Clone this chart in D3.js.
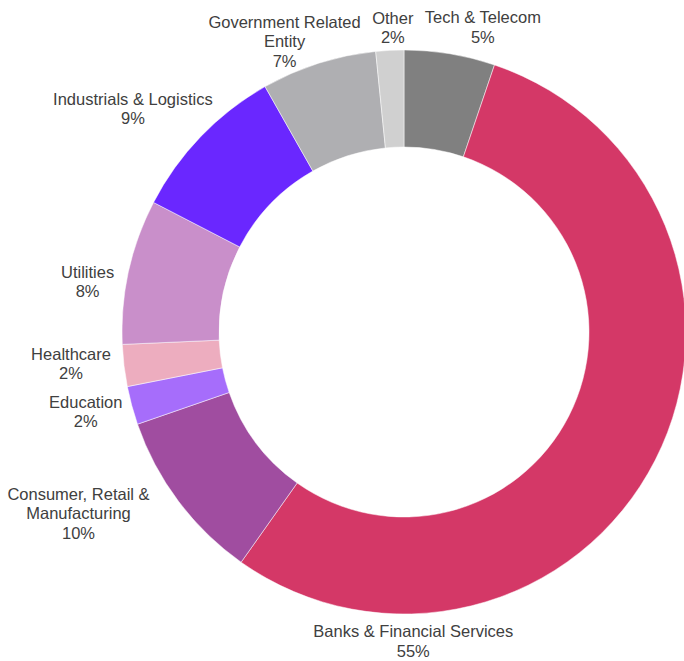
<!DOCTYPE html>
<html>
<head>
<meta charset="utf-8">
<script src="https://cdn.jsdelivr.net/npm/d3@7"></script>
<style>
  body { margin: 0; background: #fff; }
  svg text { font-family: "Liberation Sans", Arial, sans-serif; font-size: 16.5px; fill: #404040; }
</style>
</head>
<body>
<div id="chart"></div>
<script>
// data, clockwise from 12 o'clock
var categories = ["Tech & Telecom", "Banks & Financial Services", "Consumer, Retail & Manufacturing", "Education", "Healthcare", "Utilities", "Industrials & Logistics", "Government Related Entity", "Other"];
var labelLines = [["Tech & Telecom"], ["Banks & Financial Services"], ["Consumer, Retail &", "Manufacturing"], ["Education"], ["Healthcare"], ["Utilities"], ["Industrials & Logistics"], ["Government Related", "Entity"], ["Other"]];
var shares = [5.2, 54.6, 9.9, 2.2, 2.4, 8.3, 9.2, 6.6, 1.6];
var colors = ["#808080", "#d43867", "#a04da0", "#a66dfb", "#edadbf", "#c98fca", "#6a27ff", "#afafb2", "#d0d0d0"];

// labels were placed by hand in the original: nudge from each slice's outer mid point
var labelNudge = [[33, -27], [-242, 181], [-100, 12], [-46, 6], [-53, -2], [-41, 10], [-68, -28], [-34, -22], [3, -23]];

var width = 684;
var height = 661;
var cx = 404, cy = 332;
var outerR = 282, innerR = 185;

var svg = d3.select("#chart").append("svg").attr("width", width).attr("height", height);
var g = svg.append("g").attr("transform", "translate(" + cx + "," + cy + ")");

var rows = categories.map(function (c, i) {
    return {name: c, lines: labelLines[i], value: shares[i], color: colors[i], nudge: labelNudge[i]};
});

var pie = d3.pie().sort(null).value(function (d) { return d.value; });
var arc = d3.arc().innerRadius(innerR).outerRadius(outerR);
var arcs = pie(rows);

g.selectAll("path").data(arcs).enter().append("path")
    .attr("d", arc)
    .style("fill", function (d) { return d.data.color; })
    .style("stroke", "#fff")
    .style("stroke-width", 0.5);

var lineH = 19.5;
var labels = g.selectAll(".lbl").data(arcs).enter().append("text").attr("class", "lbl")
    .attr("text-anchor", "middle")
    .attr("dominant-baseline", "central");

labels.each(function (d) {
    var t = d3.select(this);
    var lines = d.data.lines.concat([Math.round(d.data.value) + "%"]);
    var a = (d.startAngle + d.endAngle) / 2;
    var mx = Math.sin(a) * outerR + d.data.nudge[0];
    var my = -Math.cos(a) * outerR + d.data.nudge[1];
    var top = my - (lines.length - 1) * lineH / 2;
    lines.forEach(function (s, k) {
        t.append("tspan").attr("x", mx).attr("y", top + k * lineH).text(s);
    });
});
</script>
</body>
</html>
